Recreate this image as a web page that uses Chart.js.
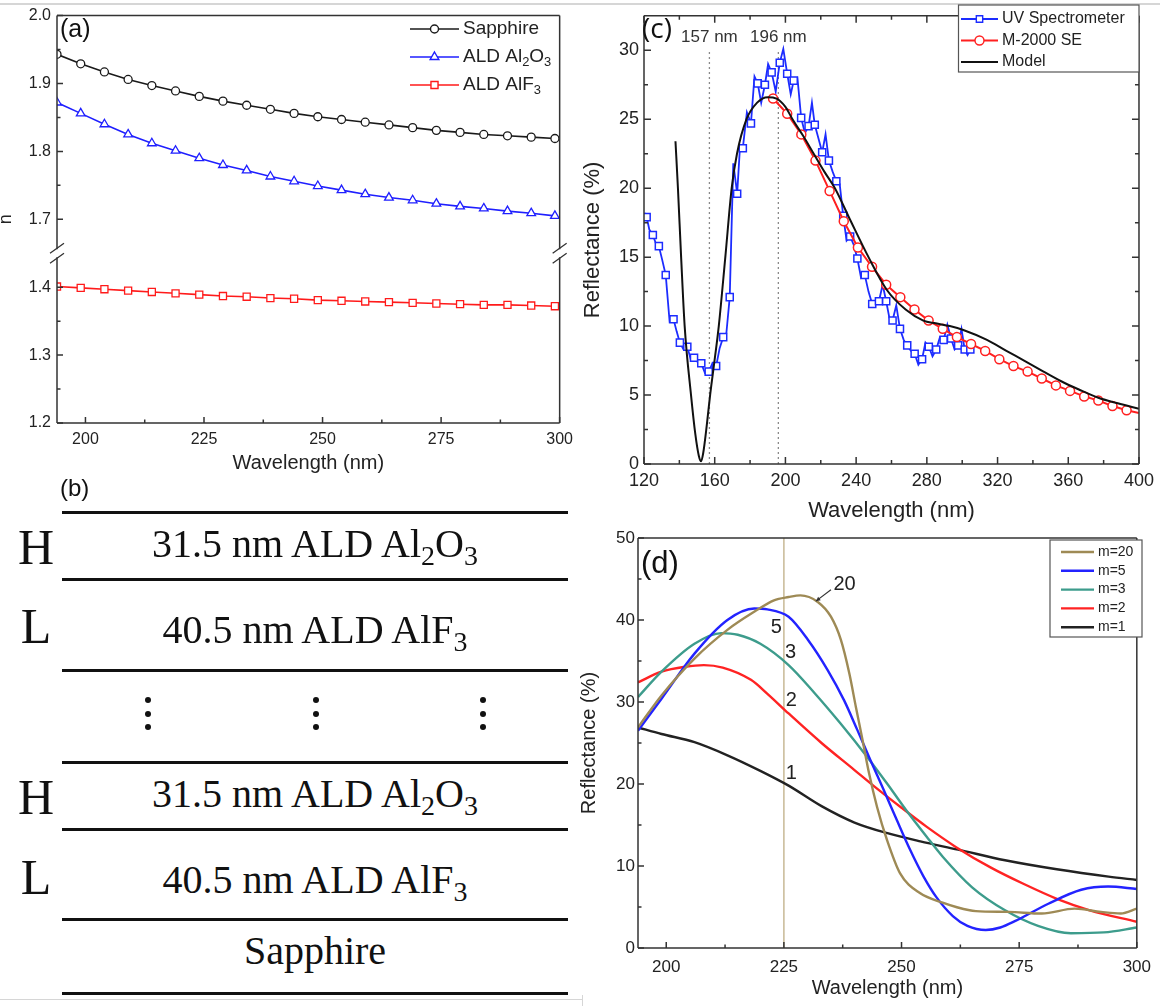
<!DOCTYPE html>
<html>
<head>
<meta charset="utf-8">
<title>ALD Al2O3 / AlF3 mirror</title>
<script src="https://cdn.jsdelivr.net/npm/chart.js@4.4.1/dist/chart.umd.min.js"></script>
<style>
  html, body { margin: 0; padding: 0; background: #fff; }
  body { position: relative; width: 1160px; height: 1006px; overflow: hidden; font-family: "Liberation Sans", Arial, sans-serif; color: #222; }
  canvas { position: absolute; }
  .tag { position: absolute; line-height: 1; color: #111; white-space: nowrap; }
  .rule { position: absolute; left: 62px; width: 506px; height: 3px; background: #111; }
  .layer { position: absolute; left: 62px; width: 506px; height: 50px; line-height: 50px; text-align: center;
           font-family: "Liberation Serif", "Times New Roman", serif; font-size: 40px; color: #111; }
  .layer sub { font-size: 0.7em; vertical-align: -0.28em; line-height: 0; }
  .side { position: absolute; left: 12px; width: 48px; height: 60px; line-height: 60px; text-align: center;
          font-family: "Liberation Serif", "Times New Roman", serif; font-size: 50px; color: #111; }
  .dots { position: absolute; top: 697px; width: 6px; }
  .dots i { display: block; width: 6px; height: 6px; border-radius: 50%; background: #111; margin-bottom: 7.5px; }
  .edge { position: absolute; background: #d6d6d6; }
</style>
</head>
<body>

<div class="edge" style="left:0;top:3px;width:1160px;height:2px"></div>
<div class="edge" style="left:0;top:999px;width:582px;height:1px"></div>
<div class="edge" style="left:582px;top:995px;width:1px;height:11px"></div>

<canvas id="chartA" width="580" height="480" style="left:0;top:0"></canvas>
<canvas id="chartC" width="580" height="540" style="left:580px;top:0"></canvas>
<canvas id="chartD" width="580" height="486" style="left:580px;top:520px"></canvas>

<div class="tag" style="left:60px;top:16px;font-size:25px">(a)</div>
<div class="tag" style="left:642px;top:13px;font-size:28px;font-family:'Open Sans',sans-serif">(c)</div>
<div class="tag" style="left:641px;top:547px;font-size:31px">(d)</div>

<!-- (b) layer stack -->
<div class="tag" style="left:60px;top:476px;font-size:24px">(b)</div>
<div class="rule" style="top:511px"></div>
<div class="side" style="top:517px">H</div>
<div class="layer" style="top:519px">31.5 nm ALD Al<sub>2</sub>O<sub>3</sub></div>
<div class="rule" style="top:578px"></div>
<div class="side" style="top:596px">L</div>
<div class="layer" style="top:605px">40.5 nm ALD AlF<sub>3</sub></div>
<div class="rule" style="top:669px"></div>
<div class="dots" style="left:145px"><i></i><i></i><i></i></div>
<div class="dots" style="left:313px"><i></i><i></i><i></i></div>
<div class="dots" style="left:480px"><i></i><i></i><i></i></div>
<div class="rule" style="top:761px"></div>
<div class="side" style="top:767px">H</div>
<div class="layer" style="top:769px">31.5 nm ALD Al<sub>2</sub>O<sub>3</sub></div>
<div class="rule" style="top:828px"></div>
<div class="side" style="top:847px">L</div>
<div class="layer" style="top:855px">40.5 nm ALD AlF<sub>3</sub></div>
<div class="rule" style="top:918px"></div>
<div class="layer" style="top:926px">Sapphire</div>
<div class="rule" style="top:992px"></div>

<script>
const FONT = '"Liberation Sans", Arial, Helvetica, sans-serif';

// ---------- (a) refractive index ----------
const aWavelength = [194, 199, 204, 209, 214, 219, 224, 229, 234, 239, 244, 249, 254, 259, 264, 269, 274, 279, 284, 289, 294, 299];
const aSapphire = [1.943, 1.929, 1.917, 1.906, 1.897, 1.889, 1.881, 1.874, 1.868, 1.862, 1.856, 1.851, 1.847, 1.843, 1.839, 1.835, 1.831, 1.828, 1.825, 1.823, 1.821, 1.819];
const aAl2O3 = [1.872, 1.856, 1.840, 1.825, 1.812, 1.801, 1.790, 1.780, 1.772, 1.763, 1.756, 1.749, 1.743, 1.737, 1.732, 1.728, 1.723, 1.719, 1.716, 1.712, 1.709, 1.705];
const aAlF3 = [1.401, 1.399, 1.397, 1.395, 1.393, 1.391, 1.389, 1.387, 1.386, 1.384, 1.383, 1.381, 1.380, 1.379, 1.378, 1.377, 1.376, 1.375, 1.374, 1.374, 1.373, 1.372];
const aLabels = ['Sapphire', 'ALD Al_2O_3', 'ALD AlF_3'];
const aYTickLabels = ['1.2', '1.3', '1.4', '1.7', '1.8', '1.9', '2.0'];
const aBreakSkip = 0.2; // 1.5..1.7 is cut out of the y axis

// ---------- (c) measured vs model reflectance ----------
const cUvWl = [121.5, 125, 128.4, 132.3, 136.7, 140.3, 144.5, 148.3, 152.4, 156.6, 160.8, 164.8, 168.5, 172.7, 175.9, 180.5, 184.3, 188.4, 192.2, 196.8, 201, 204.7, 208.9, 213.1, 216.6, 220.8, 224.6, 228.8, 232.7, 236.6, 240.7, 244.9, 249.1, 252.9, 257, 260.6, 264.8, 268.9, 273.1, 277.3, 281.1, 285.3, 289.5, 293.7, 297.7, 301.4, 304.6];
const cUvR = [17.9, 16.6, 15.8, 13.7, 10.5, 8.8, 8.5, 7.7, 7.3, 6.7, 7.1, 9.2, 12.1, 19.6, 22.9, 24.7, 27.6, 27.5, 28.4, 29.1, 28.3, 27.8, 25.1, 24.5, 24.6, 22.6, 22.0, 20.5, 18.0, 16.5, 14.9, 13.7, 11.6, 11.8, 11.8, 10.4, 9.8, 8.6, 8.0, 7.6, 8.5, 8.3, 9.0, 9.1, 8.6, 8.3, 8.3];
// unmarked readings between the squares (the spectrometer trace is noisy)
const cUvExtraWl = [120.3, 123, 126.7, 130.3, 134.5, 138.5, 142.4, 146.4, 150.3, 154.5, 158.7, 162.8, 166.6, 170.5, 174.3, 178.2, 182.5, 186.3, 190.2, 194.5, 198.8, 203, 206.8, 211, 215, 218.7, 222.7, 226.7, 230.7, 234.6, 238.6, 242.8, 247, 251, 255, 258.8, 262.7, 266.9, 271, 275.2, 279.2, 283.2, 287.4, 291.6, 295.7, 299.6, 303];
const cUvExtraR = [18.2, 17.0, 16.0, 14.8, 10.3, 9.6, 8.3, 7.6, 7.4, 6.6, 7.3, 8.4, 9.5, 21.8, 23.0, 25.5, 28.1, 26.2, 29.0, 27.0, 30.1, 26.8, 28.0, 24.0, 26.2, 23.6, 23.9, 21.2, 20.3, 16.2, 15.9, 13.5, 12.5, 11.6, 13.0, 10.6, 11.5, 9.0, 8.2, 7.2, 8.8, 7.8, 9.2, 10.1, 8.3, 9.8, 7.9];
const cSeWl = [193, 201, 209, 217, 225, 233, 241, 249, 257, 265, 273, 281, 289, 297, 305, 313, 321, 329, 337, 345, 353, 361, 369, 377, 385, 393, 400];
const cSeR = [26.5, 25.4, 23.9, 22.0, 19.8, 17.6, 15.7, 14.3, 13.0, 12.1, 11.2, 10.4, 9.8, 9.2, 8.7, 8.2, 7.6, 7.1, 6.7, 6.2, 5.7, 5.3, 4.9, 4.6, 4.2, 3.9, 3.7];
const cModelWl = [137.8, 139.2, 141, 143, 146.6, 149, 151, 152.3, 153.5, 155.5, 157.4, 160, 162.3, 166, 169.6, 172.6, 178, 184, 190, 195, 200, 204, 210, 216, 222, 228, 237, 247, 257.5, 268, 278, 285, 293, 301, 314, 325, 335, 346, 356, 366, 377, 388, 400];
const cModelR = [23.4, 20, 15, 10, 5, 2.2, 0.6, 0.2, 0.8, 2.8, 5, 7.6, 10, 15, 20, 22.5, 25, 26.2, 26.6, 26.5, 25.9, 25.0, 23.8, 22.5, 21.2, 20.0, 17.6, 15.0, 12.6, 11.2, 10.4, 10.2, 10.0, 9.7, 9.0, 8.2, 7.5, 6.7, 6.0, 5.4, 4.8, 4.4, 4.0];
const cLabels = ['UV Spectrometer', 'M-2000 SE', 'Model'];
const cGuideWl = [157, 196];
const cGuideTop = 30;

// ---------- (d) simulated reflectance vs number of periods m ----------
const dM20Wl = [194, 199, 206, 213, 218.7, 222.9, 226, 228.5, 232.2, 235, 237.1, 238.9, 240.3, 241.7, 243.1, 244.8, 246.9, 249.7, 253.9, 258.9, 261.6, 265.8, 272.8, 279.8, 286.8, 292.4, 296.6, 300];
const dM20R = [26.9, 30.8, 35.3, 38.8, 41.0, 42.4, 42.8, 43.0, 42.2, 40.4, 37.6, 33.5, 29.4, 25.4, 21.3, 17.2, 13.2, 9.1, 6.7, 5.5, 5.0, 4.5, 4.4, 4.2, 4.8, 4.4, 4.2, 4.8];
const dM5Wl = [194, 199, 206, 213, 218.7, 221.5, 226, 230.1, 234.3, 237.8, 240.6, 243.4, 246.2, 249, 251.8, 254.6, 257.4, 260.9, 264, 267.9, 271, 274.2, 281.2, 288.2, 293.9, 300];
const dM5R = [26.5, 30.4, 35.9, 40.0, 41.4, 41.3, 40.4, 37.6, 33.9, 30.2, 26.6, 22.9, 19.3, 15.6, 12.0, 8.8, 6.2, 3.9, 2.7, 2.2, 2.5, 3.3, 5.4, 7.1, 7.5, 7.2];
const dM3Wl = [194, 199, 206, 211.7, 215.2, 220, 226, 231.5, 237, 242.7, 247, 251, 255.3, 258.8, 265, 272, 279, 286, 293, 300];
const dM3R = [30.6, 33.7, 37.1, 38.4, 38.2, 37.1, 34.5, 31.1, 27.4, 23.3, 20.0, 16.8, 13.6, 11.1, 7.4, 4.6, 2.7, 1.8, 1.9, 2.5];
const dM2Wl = [194, 199, 204, 208, 212, 218, 221.5, 226, 233, 240, 244, 250, 255.3, 261.6, 269, 276, 283, 290, 300];
const dM2R = [32.4, 33.7, 34.3, 34.5, 34.2, 32.7, 31.0, 28.6, 25.0, 21.7, 19.8, 17.1, 14.8, 12.3, 9.8, 7.8, 6.0, 4.6, 3.2];
const dM1Wl = [194, 199, 206, 213, 220, 226, 233, 240, 247, 254, 262, 272, 283, 294, 300];
const dM1R = [26.9, 26.1, 25.1, 23.5, 21.6, 19.8, 17.3, 15.3, 14.0, 13.0, 12.0, 10.7, 9.6, 8.7, 8.3];
const dLabels = ['m=20', 'm=5', 'm=3', 'm=2', 'm=1'];
const dTags = ['20', '5', '3', '2', '1'];
const dMarkWl = 225;

const pts = (xs, ys, f = v => v) => xs.map((x, i) => ({ x, y: f(ys[i]) }));

// ---------- drawing helpers ----------
function drawMarker(ctx, style, x, y, r, stroke, lw) {
  ctx.beginPath();
  if (style === 'triangle') {
    ctx.moveTo(x, y - r);
    ctx.lineTo(x + 0.866 * r, y + 0.5 * r);
    ctx.lineTo(x - 0.866 * r, y + 0.5 * r);
    ctx.closePath();
  } else if (style === 'rect') {
    const s = r * Math.SQRT1_2;
    ctx.rect(x - s, y - s, 2 * s, 2 * s);
  } else {
    ctx.arc(x, y, r, 0, Math.PI * 2);
  }
  ctx.fillStyle = '#fff';
  ctx.fill();
  ctx.lineWidth = lw;
  ctx.strokeStyle = stroke;
  ctx.stroke();
}

// text with "_3" style subscripts
function drawRich(ctx, text, x, y, size) {
  let cx = x;
  text.split(/(_\d)/).filter(Boolean).forEach(p => {
    const sub = p[0] === '_';
    const s = sub ? p.slice(1) : p;
    ctx.font = `${sub ? size * 0.68 : size}px ${FONT}`;
    ctx.fillText(s, cx, sub ? y + size * 0.3 : y);
    cx += ctx.measureText(s).width;
  });
}

function minorBetween(vals, min, max) {
  const out = [];
  for (let i = 0; i < vals.length - 1; i++) out.push((vals[i] + vals[i + 1]) / 2);
  if (vals.length > 1) {
    const half = (vals[1] - vals[0]) / 2;
    const lo = vals[0] - half, hi = vals[vals.length - 1] + half;
    if (lo > min + 1e-9) out.push(lo);
    if (hi < max - 1e-9) out.push(hi);
  }
  return out;
}

// Origin-style frame with inward ticks (and an optional y-axis break)
const frameTicks = {
  id: 'frameTicks',
  afterDatasetsDraw(chart, args, o) {
    const { ctx, chartArea: a } = chart;
    const xs = chart.scales.x, ys = chart.scales.y;
    ctx.save();
    ctx.strokeStyle = o.color;
    ctx.lineWidth = o.width;
    ctx.beginPath();
    ctx.moveTo(a.left, a.top); ctx.lineTo(a.right, a.top);
    ctx.moveTo(a.left, a.bottom); ctx.lineTo(a.right, a.bottom);
    const yb = o.breakAt != null ? ys.getPixelForValue(o.breakAt) : null;
    [a.left, a.right].forEach(x => {
      if (yb !== null) {
        ctx.moveTo(x, a.top); ctx.lineTo(x, yb - o.breakGap);
        ctx.moveTo(x, yb + o.breakGap); ctx.lineTo(x, a.bottom);
      } else {
        ctx.moveTo(x, a.top); ctx.lineTo(x, a.bottom);
      }
    });
    ctx.stroke();

    if (yb !== null) {
      ctx.beginPath();
      ctx.lineWidth = 1.3;
      [a.left, a.right].forEach(x => {
        [-1, 1].forEach(s => {
          const yy = yb + s * (o.breakGap + 1);
          ctx.moveTo(x - 7, yy + 5);
          ctx.lineTo(x + 7, yy - 5);
        });
      });
      ctx.stroke();
    }

    const xMaj = xs.ticks.map(t => t.value);
    const yMaj = ys.ticks.map(t => t.value);
    const skip = o.skipMinorY || [];
    const xMin = minorBetween(xMaj, xs.min, xs.max);
    const yMin = minorBetween(yMaj, ys.min, ys.max).filter(v => !skip.some(s => Math.abs(s - v) < 1e-6));
    ctx.beginPath();
    ctx.lineWidth = o.width;
    const tx = (vals, len) => vals.forEach(v => {
      const px = xs.getPixelForValue(v);
      if (o.xSides.includes('bottom')) { ctx.moveTo(px, a.bottom); ctx.lineTo(px, a.bottom - len); }
      if (o.xSides.includes('top')) { ctx.moveTo(px, a.top); ctx.lineTo(px, a.top + len); }
    });
    const ty = (vals, len) => vals.forEach(v => {
      const py = ys.getPixelForValue(v);
      if (o.ySides.includes('left')) { ctx.moveTo(a.left, py); ctx.lineTo(a.left + len, py); }
      if (o.ySides.includes('right')) { ctx.moveTo(a.right, py); ctx.lineTo(a.right - len, py); }
    });
    tx(xMaj, o.major); tx(xMin, o.minor);
    ty(yMaj, o.major); ty(yMin, o.minor);
    ctx.stroke();
    ctx.restore();
  }
};

// legend drawn inside the plot, with line + marker samples
const richLegend = {
  id: 'richLegend',
  afterDraw(chart, args, o) {
    if (!o.items) return;
    const { ctx } = chart;
    ctx.save();
    if (o.frame) {
      ctx.fillStyle = '#fff';
      ctx.fillRect(...o.frame);
      ctx.strokeStyle = '#555';
      ctx.lineWidth = 1.2;
      ctx.strokeRect(...o.frame);
    }
    ctx.textBaseline = 'middle';
    o.items.forEach((it, i) => {
      const ds = chart.data.datasets[it.ds];
      const y = o.y0 + i * o.rowH;
      ctx.strokeStyle = ds.borderColor;
      ctx.lineWidth = ds.borderWidth;
      ctx.beginPath();
      ctx.moveTo(o.x0, y); ctx.lineTo(o.x1, y);
      ctx.stroke();
      if (it.marker) drawMarker(ctx, ds.pointStyle, (o.x0 + o.x1) / 2, y, it.marker, ds.borderColor, 1.4);
      ctx.fillStyle = '#222';
      drawRich(ctx, it.label, o.tx, y, o.size);
    });
    ctx.restore();
  }
};

// "157 nm" style labels above the guide lines of (c)
const guideLabels = {
  id: 'guideLabels',
  afterDatasetsDraw(chart, args, o) {
    if (!o.values) return;
    const { ctx, chartArea: a } = chart;
    ctx.save();
    ctx.font = `${o.size}px ${FONT}`;
    ctx.fillStyle = '#333';
    ctx.textAlign = 'center';
    ctx.textBaseline = 'middle';
    o.values.forEach(v => ctx.fillText(`${v} nm`, chart.scales.x.getPixelForValue(v), a.top + o.dy));
    ctx.restore();
  }
};

// curve numbers of (d)
const curveTags = {
  id: 'curveTags',
  afterDatasetsDraw(chart, args, o) {
    if (!o.tags) return;
    const { ctx } = chart;
    const xs = chart.scales.x, ys = chart.scales.y;
    ctx.save();
    ctx.font = `${o.size}px ${FONT}`;
    ctx.fillStyle = '#222';
    ctx.textAlign = 'center';
    ctx.textBaseline = 'middle';
    o.tags.forEach(t => ctx.fillText(o.text[t.i], xs.getPixelForValue(t.x), ys.getPixelForValue(t.y)));
    if (o.arrow) {
      const [fx, fy] = [xs.getPixelForValue(o.arrow[0][0]), ys.getPixelForValue(o.arrow[0][1])];
      const [ex, ey] = [xs.getPixelForValue(o.arrow[1][0]), ys.getPixelForValue(o.arrow[1][1])];
      ctx.strokeStyle = '#333';
      ctx.lineWidth = 1.2;
      ctx.beginPath(); ctx.moveTo(fx, fy); ctx.lineTo(ex, ey); ctx.stroke();
      const ang = Math.atan2(ey - fy, ex - fx);
      ctx.beginPath();
      ctx.moveTo(ex, ey);
      ctx.lineTo(ex - 5 * Math.cos(ang - 0.45), ey - 5 * Math.sin(ang - 0.45));
      ctx.lineTo(ex - 5 * Math.cos(ang + 0.45), ey - 5 * Math.sin(ang + 0.45));
      ctx.closePath();
      ctx.fillStyle = '#333';
      ctx.fill();
    }
    ctx.restore();
  }
};

function axis(opts) {
  return {
    type: 'linear',
    min: opts.min, max: opts.max,
    grid: { display: false, drawTicks: false },
    border: { display: false },
    ticks: {
      stepSize: opts.step, includeBounds: false, padding: opts.pad, color: '#222',
      font: { size: opts.tickSize, family: FONT },
      ...(opts.callback ? { callback: opts.callback } : {})
    },
    title: { display: true, text: opts.title, color: '#222', font: { size: opts.titleSize, family: FONT }, padding: opts.titlePad },
    afterFit: s => { if (opts.w) s.width = opts.w; if (opts.h) s.height = opts.h; }
  };
}

const base = { responsive: false, animation: false, events: [] };

// ---------- chart (a) ----------
const toAxisA = n => (n > 1.55 ? n - aBreakSkip : n);
new Chart(document.getElementById('chartA'), {
  type: 'line',
  data: {
    datasets: [
      { label: aLabels[0], data: pts(aWavelength, aSapphire, toAxisA), borderColor: '#1a1a1a', borderWidth: 1.6,
        pointStyle: 'circle', pointRadius: 4, pointBorderWidth: 1.3, pointBackgroundColor: '#fff', pointBorderColor: '#1a1a1a' },
      { label: aLabels[1], data: pts(aWavelength, aAl2O3, toAxisA), borderColor: '#1f1fff', borderWidth: 1.6,
        pointStyle: 'triangle', pointRadius: 5, pointBorderWidth: 1.3, pointBackgroundColor: '#fff', pointBorderColor: '#1f1fff' },
      { label: aLabels[2], data: pts(aWavelength, aAlF3, toAxisA), borderColor: '#ff1a1a', borderWidth: 1.6,
        pointStyle: 'rect', pointRadius: 5, pointBorderWidth: 1.3, pointBackgroundColor: '#fff', pointBorderColor: '#ff1a1a' }
    ]
  },
  options: {
    ...base,
    layout: { padding: { top: 12, right: 13, left: 0, bottom: 0 } },
    plugins: {
      legend: { display: false }, tooltip: { enabled: false },
      frameTicks: { color: '#333', width: 1.5, major: 6, minor: 3.5, xSides: ['bottom'], ySides: ['left'], breakAt: 1.45, breakGap: 4, skipMinorY: [1.45] },
      richLegend: { x0: 410, x1: 459, tx: 463, y0: 29, rowH: 28, size: 19,
        items: [{ ds: 0, label: aLabels[0], marker: 4 }, { ds: 1, label: aLabels[1], marker: 5 }, { ds: 2, label: aLabels[2], marker: 5 }] }
    },
    scales: {
      x: axis({ min: 194, max: 300, step: 25, pad: 7, tickSize: 16, title: 'Wavelength (nm)', titleSize: 20, titlePad: { top: 0, bottom: 5 }, h: 57 }),
      y: axis({ min: 1.2, max: 1.8, step: 0.1, pad: 6, tickSize: 16, title: 'n', titleSize: 18, titlePad: { top: -5, bottom: 0 }, w: 57,
        callback: (v, i) => aYTickLabels[i] })
    }
  },
  plugins: [frameTicks, richLegend]
});

// ---------- chart (c) ----------
const cUvData = cUvWl.map((x, i) => ({ x, y: cUvR[i], m: true }))
  .concat(cUvExtraWl.map((x, i) => ({ x, y: cUvExtraR[i], m: false })))
  .sort((p, q) => p.x - q.x);
new Chart(document.getElementById('chartC'), {
  type: 'line',
  data: {
    datasets: [
      { label: cLabels[2], data: pts(cModelWl, cModelR), borderColor: '#111', borderWidth: 2, pointRadius: 0, cubicInterpolationMode: 'monotone' },
      { label: cLabels[1], data: pts(cSeWl, cSeR), borderColor: '#ff2020', borderWidth: 2, pointStyle: 'circle',
        pointRadius: c => (c.dataIndex < cSeWl.length - 1 ? 4.5 : 0), pointBorderWidth: 1.5, pointBackgroundColor: '#fff', pointBorderColor: '#ff2020' },
      { label: cLabels[0], data: cUvData, borderColor: '#1c2cff', borderWidth: 1.8, pointStyle: 'rect',
        pointRadius: c => (c.raw && c.raw.m ? 5 : 0), pointBorderWidth: 1.5, pointBackgroundColor: '#fff', pointBorderColor: '#1c2cff' },
      ...cGuideWl.map(w => ({ label: `${w} nm`, data: [{ x: w, y: 0 }, { x: w, y: cGuideTop }], borderColor: '#8a8a8a',
        borderWidth: 1.3, borderDash: [2, 3], pointRadius: 0 }))
    ]
  },
  options: {
    ...base,
    layout: { padding: { top: 5, right: 21, left: 0, bottom: 0 } },
    plugins: {
      legend: { display: false }, tooltip: { enabled: false },
      frameTicks: { color: '#333', width: 1.5, major: 7, minor: 4, xSides: ['bottom', 'top'], ySides: ['left', 'right'] },
      guideLabels: { values: cGuideWl, dy: 22, size: 17 },
      richLegend: { frame: [378.5, 5, 180.5, 67], x0: 381, x1: 418, tx: 422, y0: 19, rowH: 21.5, size: 16,
        items: [{ ds: 2, label: cLabels[0], marker: 4.5 }, { ds: 1, label: cLabels[1], marker: 4.5 }, { ds: 0, label: cLabels[2] }] }
    },
    scales: {
      x: axis({ min: 120, max: 400, step: 40, pad: 6, tickSize: 18, title: 'Wavelength (nm)', titleSize: 22, titlePad: { top: 0, bottom: 16 }, h: 76 }),
      y: axis({ min: 0, max: 32.5, step: 5, pad: 5, tickSize: 18, title: 'Reflectance (%)', titleSize: 22, titlePad: { top: 0, bottom: 0 }, w: 64 })
    }
  },
  plugins: [frameTicks, guideLabels, richLegend]
});

// ---------- chart (d) ----------
const dColors = ['#9e8a55', '#2323ff', '#3d9c8c', '#ff2323', '#222222'];
const dSeries = [[dM20Wl, dM20R], [dM5Wl, dM5R], [dM3Wl, dM3R], [dM2Wl, dM2R], [dM1Wl, dM1R]];
new Chart(document.getElementById('chartD'), {
  type: 'line',
  data: {
    datasets: [
      ...dSeries.map(([w, r], i) => ({ label: dLabels[i], data: pts(w, r), borderColor: dColors[i], borderWidth: 2.4,
        pointRadius: 0, cubicInterpolationMode: 'monotone' })),
      { label: `${dMarkWl} nm`, data: [{ x: dMarkWl, y: 0 }, { x: dMarkWl, y: 50 }], borderColor: '#cbbd9c', borderWidth: 1.6, pointRadius: 0 }
    ]
  },
  options: {
    ...base,
    layout: { padding: { top: 18, right: 17, left: 0, bottom: 0 } },
    plugins: {
      legend: { display: false }, tooltip: { enabled: false },
      frameTicks: { color: '#333', width: 1.5, major: 6, minor: 3.5, xSides: ['bottom'], ySides: ['left'] },
      curveTags: { text: dTags, size: 20,
        tags: [{ i: 0, x: 237.9, y: 44.3 }, { i: 1, x: 223.4, y: 39.1 }, { i: 2, x: 226.4, y: 36.0 }, { i: 3, x: 226.6, y: 30.2 }, { i: 4, x: 226.6, y: 21.3 }],
        arrow: [[235.0, 43.7], [231.8, 42.3]] },
      richLegend: { frame: [470, 20, 92, 97], x0: 481, x1: 514, tx: 518, y0: 32, rowH: 18.8, size: 14,
        items: dLabels.map((l, i) => ({ ds: i, label: l })) }
    },
    scales: {
      x: axis({ min: 194, max: 300, step: 25, pad: 9, tickSize: 17, title: 'Wavelength (nm)', titleSize: 20, titlePad: { top: 0, bottom: 6 }, h: 58 }),
      y: axis({ min: 0, max: 50, step: 10, pad: 3, tickSize: 17, title: 'Reflectance (%)', titleSize: 20, titlePad: { top: -3, bottom: 0 }, w: 58 })
    }
  },
  plugins: [frameTicks, curveTags, richLegend]
});
</script>
</body>
</html>
